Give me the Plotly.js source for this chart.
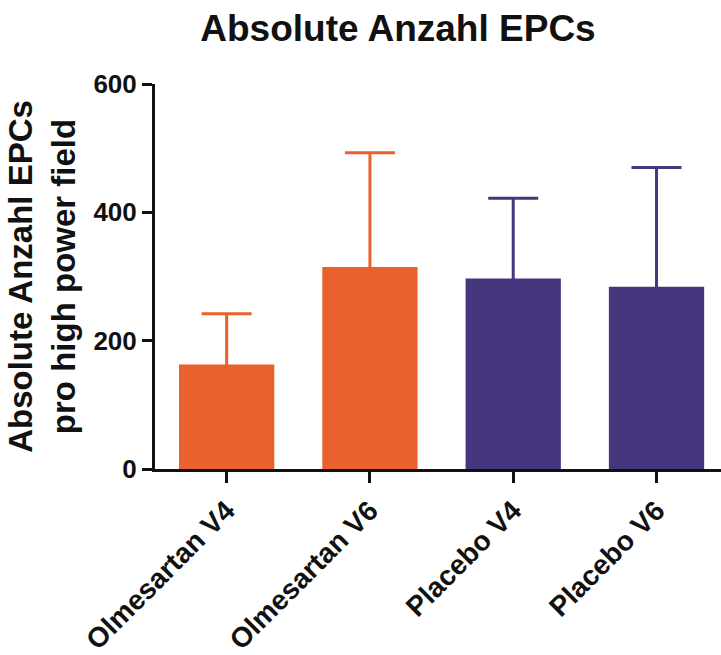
<!DOCTYPE html>
<html>
<head>
<meta charset="utf-8">
<script src="https://cdn.plot.ly/plotly-3.0.1.min.js"></script>
<style>html,body{margin:0;padding:0;background:#fff;}</style>
</head>
<body>
<div id="chart" style="width:721px;height:655px;"></div>
<script>
const categories = ["Olmesartan V4", "Olmesartan V6", "Placebo V4", "Placebo V6"];
const means = [163, 315, 297, 284];
const errorsSD = [79, 178, 125, 186];
const barColors = ["#E9612C", "#E9612C", "#45367E", "#45367E"];
const yTicks = [0, 200, 400, 600];

const fontFam = "Arial, 'Liberation Sans', Helvetica, sans-serif";

const traces = categories.map((c, i) => ({
  type: "bar",
  x: [c],
  y: [means[i]],
  marker: {color: barColors[i], line: {width: 0}},
  error_y: {
    type: "data",
    symmetric: true,
    array: [errorsSD[i]],
    color: barColors[i],
    thickness: 3,
    width: 25
  },
  width: 0.665,
  showlegend: false,
  hoverinfo: "skip"
}));

const layout = {
  width: 721,
  height: 655,
  margin: {l: 155, r: 0, t: 84, b: 186},
  paper_bgcolor: "#fff",
  plot_bgcolor: "#fff",
  showlegend: false,
  barmode: "overlay",
  font: {family: fontFam, color: "#111", size: 22},
  title: {
    text: "<b>Absolute Anzahl EPCs</b>",
    font: {family: fontFam, size: 37, color: "#111"},
    x: 0.552, xanchor: "center",
    y: 0.957, yanchor: "middle"
  },
  xaxis: {
    type: "category",
    categoryorder: "array",
    categoryarray: categories,
    range: [-0.5, 3.45],
    showline: true,
    linecolor: "#111",
    linewidth: 3,
    ticks: "outside",
    ticklen: 11,
    tickwidth: 3,
    tickcolor: "#111",
    tickangle: -45,
    tickfont: {family: fontFam, size: 28, color: "#111", weight: "bold"},
    showgrid: false,
    zeroline: false,
    fixedrange: true
  },
  yaxis: {
    range: [0, 600],
    tickvals: yTicks,
    ticktext: yTicks.map(String),
    showline: true,
    linecolor: "#111",
    linewidth: 3,
    ticks: "outside",
    ticklen: 10,
    tickwidth: 3,
    tickcolor: "#111",
    tickfont: {family: fontFam, size: 26, color: "#111", weight: "bold"},
    showgrid: false,
    zeroline: false,
    title: {
      text: "<b>Absolute Anzahl EPCs<br>pro high power field</b>",
      font: {family: fontFam, size: 33, color: "#111"},
      standoff: 8
    },
    fixedrange: true
  }
};

Plotly.newPlot("chart", traces, layout, {displayModeBar: false, staticPlot: true});
</script>
</body>
</html>
